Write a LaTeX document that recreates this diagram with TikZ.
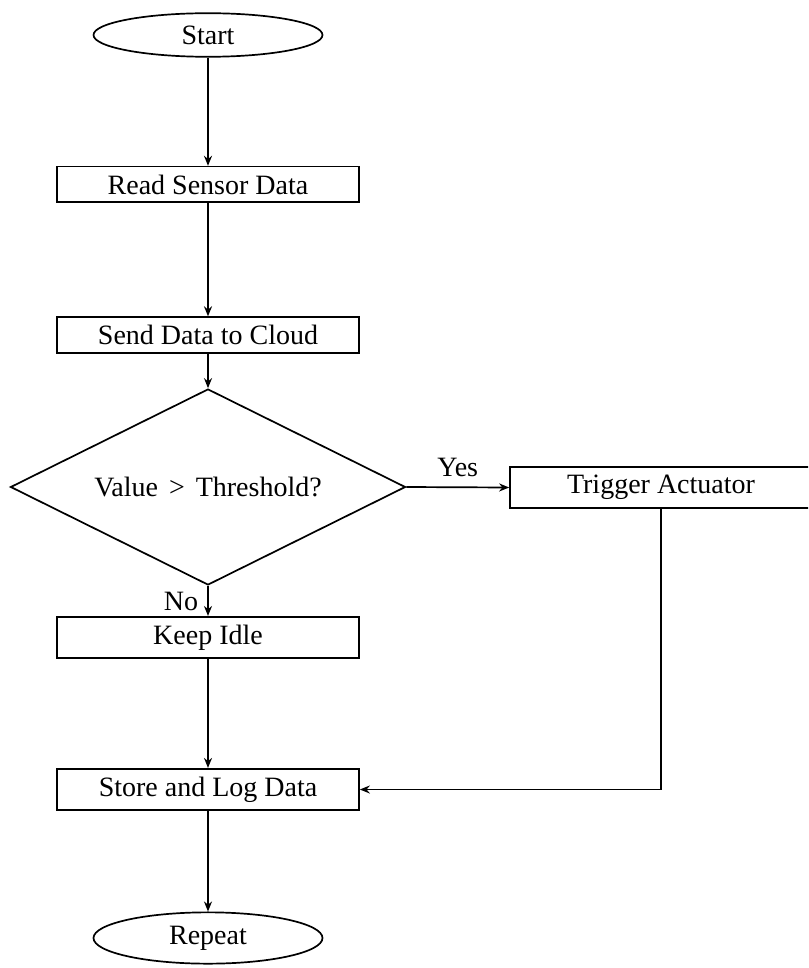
\documentclass[tikz,border=0pt]{standalone}
\usepackage{fontspec}
\setmainfont{Liberation Serif}
\usetikzlibrary{shapes.geometric,arrows.meta,calc}
\begin{document}
\begin{tikzpicture}[x=1pt,y=-1pt,
  font=\fontsize{28}{33}\selectfont,
  line width=1.7pt,
  terminal/.style={draw,ellipse,inner xsep=0pt,inner ysep=6pt,minimum width=229pt},
  procbox/.style={draw,rectangle,inner xsep=0pt,inner ysep=8pt,minimum width=302pt},
  decision/.style={draw,diamond,aspect=2,inner sep=0pt,minimum width=395pt,minimum height=196pt},
  arr/.style={-{Stealth[length=10pt,width=8pt]}},
  lbl/.style={inner sep=0pt,font=\fontsize{28}{33}\selectfont}]
\useasboundingbox (0,0) rectangle (808,968);
\clip (0,0) rectangle (808,968);
\node[terminal] (start) at (208,35) {Start};
\node[procbox] (read) at (208,184.5) {Read Sensor Data};
\node[procbox] (send) at (208,335) {Send Data to Cloud};
\node[decision] (dec) at (208,487) {Value\hspace{11pt}>\hspace{11pt}Threshold?};
\node[procbox] (trig) at (661,487.5) {Trigger Actuator};
\node[procbox] (idle) at (208,637.5) {Keep Idle};
\node[procbox] (store) at (208,789.5) {Store and Log Data};
\node[terminal] (rep) at (208,938) {Repeat};
\draw[arr] (start) -- (read);
\draw[arr] (read) -- (send);
\draw[arr] (send) -- (dec);
\draw[arr] (dec.east) -- (trig.west);
\node[lbl,anchor=base] (yes) at ($(dec.east)!0.5!(trig.west)+(0,-11)$) {Yes};
\draw[arr] (dec.south) -- (idle.north);
\node[lbl,anchor=base east] (no) at ($(idle.north)+(-9,-5)$) {No};
\draw[arr] (idle) -- (store);
\draw[arr] (trig.south) |- (store.east);
\draw[arr] (store) -- (rep);
\end{tikzpicture}
\end{document}
